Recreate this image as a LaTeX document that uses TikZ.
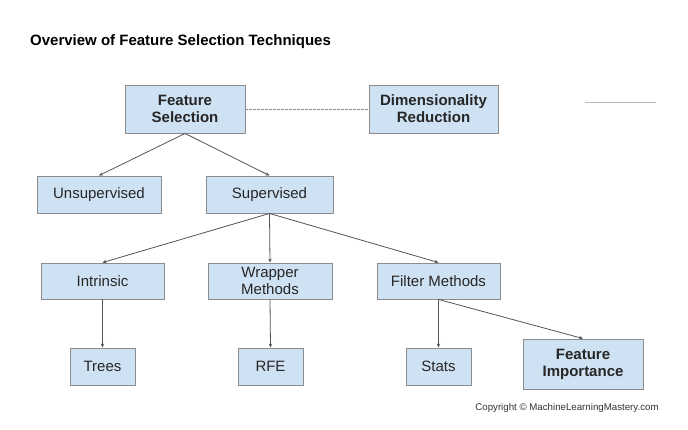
\documentclass[tikz,border=0pt]{standalone}
\usepackage{fontspec}
\setmainfont{Liberation Sans}
\usetikzlibrary{arrows.meta}
\definecolor{boxfill}{HTML}{CFE2F3}
\definecolor{boxline}{HTML}{8C8C8C}
\definecolor{conn}{HTML}{555555}
\begin{document}
\begin{tikzpicture}[x=1pt,y=-1pt,
  box/.style={draw=boxline,fill=boxfill,line width=0.9pt,inner sep=0pt,align=center,
    font=\fontsize{15}{17}\selectfont,text=black!85},
  boldbox/.style={box,font=\fontsize{15}{17}\selectfont\bfseries},
  arr/.style={draw=conn,line width=0.8pt,-{Stealth[length=4pt,width=3.5pt]}},
  lbl/.style={inner sep=0pt,anchor=west}]
\useasboundingbox (0,0) rectangle (688,429);
\fill[white] (0,0) rectangle (688,429);
\node[lbl,font=\fontsize{15}{17}\selectfont\bfseries] (title) at (30,42) {Overview of Feature Selection Techniques};
\node[boldbox,minimum width=120,minimum height=48] (fs) at (185,109) {Feature\\Selection};
\node[boldbox,minimum width=129,minimum height=48] (dr) at (433.5,109) {Dimensionality\\Reduction};
\node[box,minimum width=124,minimum height=37] (uns) at (99,194.5) {Unsupervised};
\node[box,minimum width=127,minimum height=37] (sup) at (269.5,194.5) {Supervised};
\node[box,minimum width=123,minimum height=36] (intr) at (102.5,281) {Intrinsic};
\node[box,minimum width=124,minimum height=36] (wrap) at (270,281) {Wrapper\\Methods};
\node[box,minimum width=123,minimum height=36] (filt) at (438.5,281) {Filter Methods};
\node[box,minimum width=65,minimum height=37] (trees) at (102.5,366.5) {Trees};
\node[box,minimum width=65,minimum height=37] (rfe) at (270.5,366.5) {RFE};
\node[box,minimum width=65,minimum height=37] (stats) at (438.5,366.5) {Stats};
\node[boldbox,minimum width=120,minimum height=50] (fi) at (583,364) {Feature\\Importance};
\node[inner sep=0pt,font=\fontsize{9.7}{11}\selectfont,text=black!80] (copy) at (567,408) {Copyright © MachineLearningMastery.com};
\coordinate (la) at (585,102);
\coordinate (lb) at (656,102);
\draw[boxline!60,line width=0.8pt] (la) -- (lb);
\draw[boxline,line width=0.8pt,dash pattern=on 2.5pt off 1.5pt] (fs.east) -- (dr.west);
\draw[arr] (fs.south) -- (uns.north);
\draw[arr] (fs.south) -- (sup.north);
\draw[arr] (sup.south) -- (intr.north);
\draw[arr] (sup.south) -- (wrap.north);
\draw[arr] (sup.south) -- (filt.north);
\draw[arr] (intr.south) -- (trees.north);
\draw[arr] (wrap.south) -- (rfe.north);
\draw[arr] (filt.south) -- (stats.north);
\draw[arr] (filt.south) -- (fi.north);
\end{tikzpicture}
\end{document}
